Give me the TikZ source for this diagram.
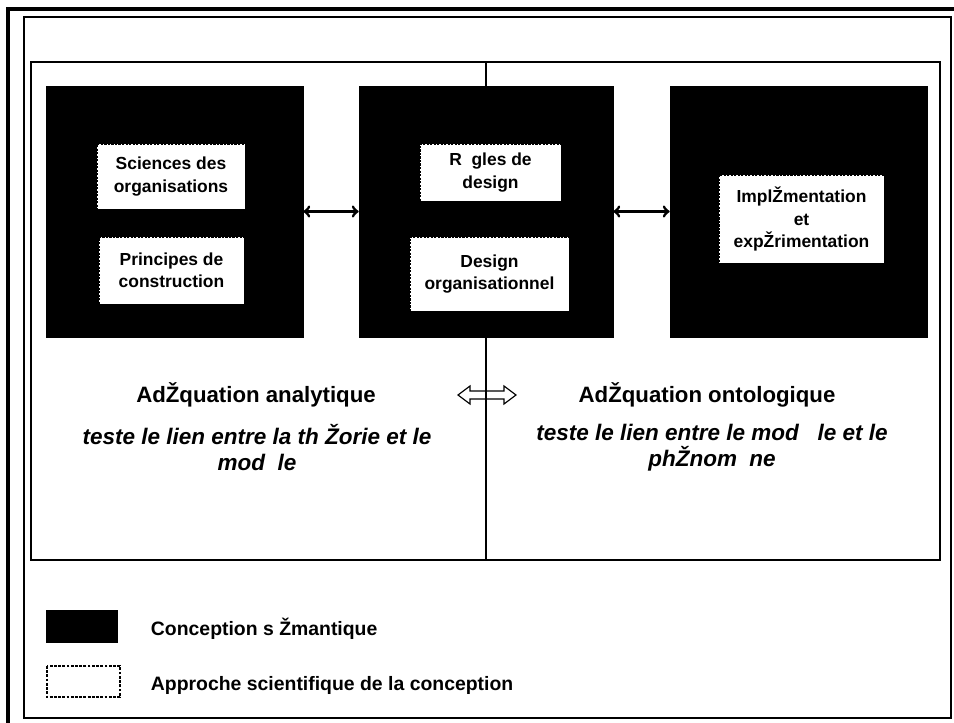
\documentclass[tikz,border=0pt]{standalone}
\usepackage{fontspec}
\setmainfont{Liberation Sans}
\usepackage{tikz}

\tikzset{
    conception/.style={fill=black, draw=black, inner sep=0pt},
    approche/.style={fill=white, draw=black, line width=0.6pt, dash pattern=on 1.5pt off 1pt,
        inner sep=0pt, align=center, font=\fontsize{12.4}{16}\selectfont\bfseries},
    titre/.style={font=\fontsize{15.8}{18}\selectfont\bfseries},
    sous/.style={align=center, font=\fontsize{16}{18.5}\selectfont\bfseries\itshape},
    legende/.style={anchor=west, font=\fontsize{13.8}{15}\selectfont\bfseries}
}

\begin{document}
\begin{tikzpicture}[x=0.025cm, y=-0.025cm]
		\clip (0, 0) rectangle (954, 723);
        % frames
        \draw[line width=2.2pt] (8, 9) rectangle (990, 760);
        \draw[line width=1pt] (24, 17) rectangle (951, 718);

        % semantic conception blocks
        \node[conception, minimum width=6.425cm, minimum height=6.275cm] (gauche) at (174.5, 211.5) {};
        \node[conception, minimum width=6.35cm, minimum height=6.275cm] (milieu) at (486, 211.5) {};
        \node[conception, minimum width=6.425cm, minimum height=6.275cm] (droite) at (798.5, 211.5) {};

        \node[approche, minimum width=3.7cm, minimum height=1.625cm] (sciences) at (171, 176.5) {Sciences des\\organisations};
        \node[approche, minimum width=3.625cm, minimum height=1.675cm] (principes) at (171.5, 270.5) {Principes de\\construction};
        \node[approche, minimum width=3.525cm, minimum height=1.425cm] (regles) at (490.5, 172.5) {R\ \ gles de\\design};
        \node[approche, minimum width=3.975cm, minimum height=1.85cm] (design) at (489.5, 274) {Design\\organisationnel};
        \node[approche, minimum width=4.125cm, minimum height=2.2cm] (impl) at (801.5, 219) {ImplŽmentation\\et\\expŽrimentation};

        \draw[<->, line width=2pt] (gauche.east) -- (milieu.west);
        \draw[<->, line width=2pt] (milieu.east) -- (droite.west);

        % adequations
        \coordinate (lien) at (487, 395);
        \draw[line width=0.8pt, fill=white] (lien) ++(-29, 0) -- ++(12, -9) -- ++(0, 5) -- ++(34, 0) -- ++(0, -5)
            -- ++(12, 9) -- ++(-12, 9) -- ++(0, -5) -- ++(-34, 0) -- ++(0, 5) -- cycle;
        \draw[line width=0.8pt] (31, 62) rectangle (940, 560);
        \draw[line width=0.8pt] (486, 62) -- (milieu.north);
        \draw[line width=0.8pt] (milieu.south) -- (486, 560);

        \node[titre] (analytique) at (256, 395) {AdŽquation analytique};
        \node[sous] (testeA) at (257, 448) {teste le lien entre la th\ Žorie et le\\mod\ \ le};
        \node[titre] (ontologique) at (707, 395) {AdŽquation ontologique};
        \node[sous] (testeO) at (712, 448) {teste le lien entre le mod\ \ \ le et le\\phŽnom\ \ ne};

        % legend
        \fill (46, 610) rectangle (118, 643);
        \draw[line width=1.4pt, dash pattern=on 2pt off 1pt] (47, 666) rectangle (120, 697);
        \node[legende] (semantique) at (146, 629) {Conception s Žmantique};
        \node[legende] (scientifique) at (146, 685) {Approche scientifique de la conception};
	\end{tikzpicture}
\end{document}
